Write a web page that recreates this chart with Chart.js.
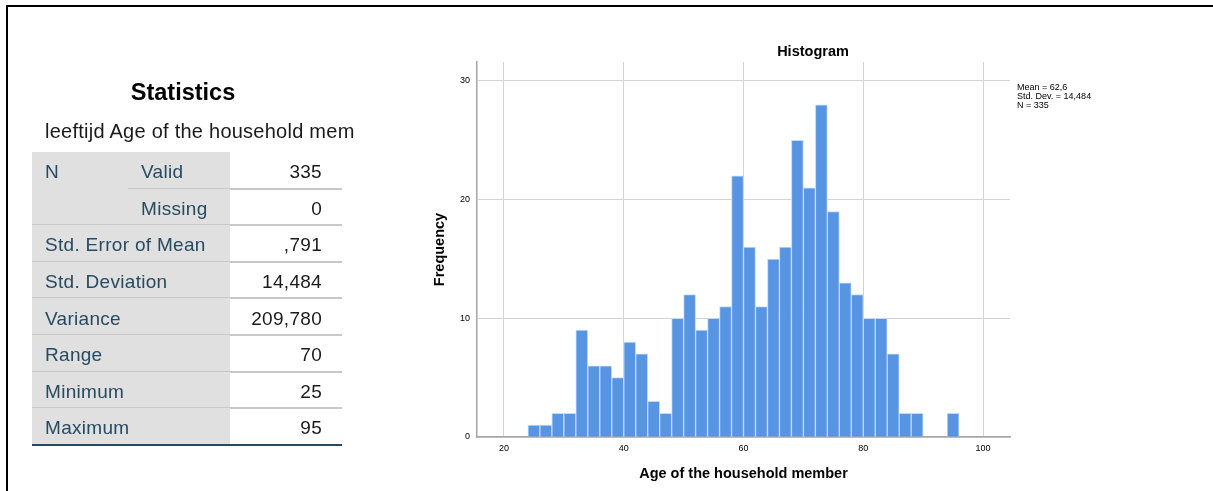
<!DOCTYPE html>
<html>
<head>
<meta charset="utf-8">
<script src="https://cdn.jsdelivr.net/npm/chart.js@4"></script>
<style>
  html, body { margin: 0; padding: 0; background: #fff; }
  body { width: 1213px; height: 491px; position: relative; overflow: hidden;
         font-family: "Liberation Sans", Arial, sans-serif; }
  #frame { position: absolute; left: 6px; top: 5px; right: -10px; bottom: -10px;
           border-top: 2px solid #000; border-left: 2px solid #000; }
  #chart { position: absolute; left: 0; top: 0; }
  .txt { position: absolute; white-space: nowrap; z-index: 2; }
  #statsTitle { left: 0; width: 366px; top: 79px; text-align: center;
                font-weight: bold; font-size: 23.5px; color: #000; }
  #statsSub { left: 45px; top: 120px; font-size: 20px; letter-spacing: 0.25px; color: #1a1a1a; }
  #table { position: absolute; left: 32px; top: 152px; width: 310px; z-index: 1; }
  .row { position: absolute; left: 0; width: 310px; }
  .grey { position: absolute; left: 0; top: 0; bottom: 0; width: 198px; background: #e0e0e0; }
  .lab, .sub, .val { position: absolute; top: 0; bottom: 0; display: flex; align-items: center;
                     padding-top: 4px; box-sizing: border-box; font-size: 19px; letter-spacing: 0.3px; }
  .lab { left: 13px; color: #264a60; }
  .sub { left: 109px; color: #264a60; }
  .val { right: 20px; color: #1a1a1a; }
  .sep { position: absolute; right: 0; height: 2px; background: #c8c8c8; }
  #histTitle { left: 420px; width: 786px; top: 43px; text-align: center;
               font-weight: bold; font-size: 14.5px; color: #000; }
  #histStats { left: 1017px; top: 83px; font-size: 9px; line-height: 9px; color: #000; }
</style>
</head>
<body>
<div id="frame"></div>
<canvas id="chart" width="1213" height="491"></canvas>
<div class="txt" id="statsTitle">Statistics</div>
<div class="txt" id="statsSub">leeftijd Age of the household mem</div>
<div id="table"></div>
<div class="txt" id="histTitle">Histogram</div>
<div class="txt" id="histStats"></div>
<script>
// Lower edge of each 2-year age bin and the number of household members in it
const ageBins = [24, 26, 28, 30, 32, 34, 36, 38, 40, 42, 44, 46, 48, 50, 52, 54, 56, 58,
                 60, 62, 64, 66, 68, 70, 72, 74, 76, 78, 80, 82, 84, 86, 88, 90, 92, 94];
const counts  = [1, 1, 2, 2, 9, 6, 6, 5, 8, 7, 3, 2, 10, 12, 9, 10, 11, 22,
                 16, 11, 15, 16, 25, 21, 28, 19, 13, 12, 10, 10, 7, 2, 2, 0, 0, 2];
const binWidth = 2;

// Axis ticks
const xTicks = [20, 40, 60, 80, 100];
const yTicks = [0, 10, 20, 30];

// Summary statistics table
const statLabels = ['N', '', 'Std. Error of Mean', 'Std. Deviation', 'Variance', 'Range', 'Minimum', 'Maximum'];
const statSubLabels = ['Valid', 'Missing', '', '', '', '', '', ''];
const statValues = ['335', '0', ',791', '14,484', '209,780', '70', '25', '95'];

// Summary lines printed beside the histogram
const histSummary = ['Mean = 62,6', 'Std. Dev. = 14,484', 'N = 335'];

// ---- table ----
const table = document.getElementById('table');
const rowH = 36.6;
statLabels.forEach((lab, i) => {
  const row = document.createElement('div');
  row.className = 'row';
  row.style.top = (i * rowH) + 'px';
  row.style.height = rowH + 'px';
  row.innerHTML = '<div class="grey"></div>' +
    '<div class="lab">' + lab + '</div>' +
    '<div class="sub">' + statSubLabels[i] + '</div>' +
    '<div class="val">' + statValues[i] + '</div>';
  const sep = document.createElement('div');
  sep.className = 'sep';
  sep.style.top = (rowH - 1) + 'px';
  sep.style.left = (i === 0 ? 96 : 0) + 'px';
  if (i === statLabels.length - 1) { sep.style.background = '#264a60'; }
  row.appendChild(sep);
  table.appendChild(row);
});
document.getElementById('histStats').innerHTML = histSummary.join('<br>');

// ---- histogram ----
const gridColor = '#d3d3d3';
const axisColor = '#a6a6a6';
const fontFam = '"Liberation Sans", Arial, sans-serif';

new Chart(document.getElementById('chart'), {
  type: 'bar',
  data: {
    datasets: [{
      data: ageBins.map((b, i) => ({ x: b + binWidth / 2, y: counts[i] })),
      backgroundColor: '#5795e3',
      borderColor: '#c4dbf6',
      borderWidth: 1,
      barPercentage: 1,
      categoryPercentage: 1
    }]
  },
  options: {
    responsive: false,
    animation: false,
    devicePixelRatio: 1,
    layout: { padding: { left: 420, right: 203, top: 62, bottom: 0 } },
    plugins: { legend: { display: false }, tooltip: { enabled: false }, title: { display: false } },
    scales: {
      x: {
        type: 'linear',
        offset: false,
        min: 15.5,
        max: 104.5,
        afterBuildTicks: s => { s.ticks = xTicks.map(v => ({ value: v })); },
        afterFit: s => { s.height = 54; },
        grid: { color: gridColor, lineWidth: 1, drawTicks: false, offset: false },
        border: { color: axisColor, width: 1.5 },
        ticks: { font: { family: fontFam, size: 9 }, color: '#000', padding: 6, maxRotation: 0 },
        title: { display: true, text: 'Age of the household member', color: '#000',
                 font: { family: fontFam, size: 14.5, weight: 'bold' }, padding: { top: 0, bottom: 8 } }
      },
      y: {
        min: 0,
        max: 31.6,
        afterBuildTicks: s => { s.ticks = yTicks.map(v => ({ value: v })); },
        afterFit: s => { s.width = 57; },
        grid: { color: gridColor, lineWidth: 1, drawTicks: false },
        border: { color: axisColor, width: 1.5 },
        ticks: { font: { family: fontFam, size: 9 }, color: '#000', padding: 7 },
        title: { display: true, text: 'Frequency', color: '#000',
                 font: { family: fontFam, size: 14.5, weight: 'bold' }, padding: { top: 11, bottom: 0 } }
      }
    }
  }
});
</script>
</body>
</html>
